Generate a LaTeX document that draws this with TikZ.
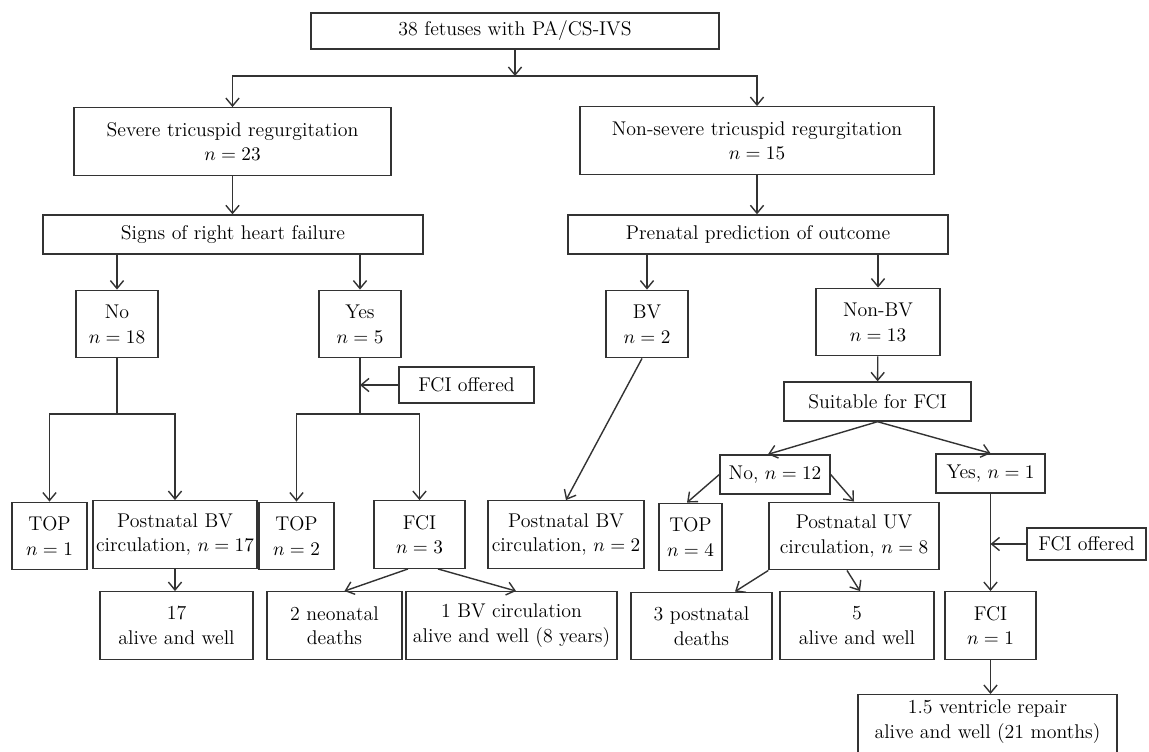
\documentclass[tikz,border=0pt]{standalone}
\usepackage{tikz}
\usetikzlibrary{arrows.meta}
\definecolor{Ink}{HTML}{333333}

\begin{document}
\begin{tikzpicture}[x=0.02cm,y=-0.02cm,>={Straight Barb[length=4.5pt,width=7.5pt]},
    font=\fontsize{11.3}{14}\selectfont]
    \tikzset{
      box/.style={draw=Ink,line width=0.8pt,fill=white,align=center,
        inner xsep=1pt,inner ysep=2pt},
      flat/.style={box,minimum height=0.78cm},
      tall/.style={box,minimum height=1.35cm},
      link/.style={draw=Ink,line width=0.8pt}
    }
    \useasboundingbox (0,0) rectangle (1149,751);
    \node[box,minimum width=8.16cm,minimum height=0.72cm] (root) at (515,31) {38 fetuses with PA/CS-IVS};
    \node[tall,minimum width=6.34cm] (severe) at (232.5,141.5) {Severe tricuspid regurgitation\\ $n=23$};
    \node[tall,minimum width=7.08cm] (nonsev) at (757,140.5) {Non-severe tricuspid regurgitation\\ $n=15$};
    \node[flat,minimum width=7.6cm] (signs) at (233,234.5) {Signs of right heart failure};
    \node[flat,minimum width=7.6cm] (prenatal) at (758,234.5) {Prenatal prediction of outcome};
    \node[tall,minimum width=1.64cm] (no18) at (117,324) {No\\ $n=18$};
    \node[tall,minimum width=1.64cm] (yes5) at (360,324) {Yes\\ $n=5$};
    \node[box,minimum width=2.7cm,minimum height=0.72cm] (fcioffL) at (466.5,385) {FCI offered};
    \node[tall,minimum width=1.64cm] (bv2) at (647,324) {BV\\ $n=2$};
    \node[tall,minimum width=2.48cm] (nonbv) at (878,322) {Non-BV\\ $n=13$};
    \node[flat,minimum width=3.74cm] (suitable) at (877.5,401.5) {Suitable for FCI};
    \node[tall,minimum width=1.5cm] (top1) at (49.5,536) {TOP\\ $n=1$};
    \node[tall,minimum width=3.28cm] (pbv17) at (175,534.5) {Postnatal BV\\ circulation, $n=17$};
    \node[tall,minimum width=1.5cm] (top2) at (296.5,536) {TOP\\ $n=2$};
    \node[tall,minimum width=1.82cm] (fci3) at (419.5,534.5) {FCI\\ $n=3$};
    \node[tall,minimum width=3.12cm] (pbv2) at (566,534.5) {Postnatal BV\\ circulation, $n=2$};
    \node[tall,minimum width=1.26cm] (top4) at (690.5,537) {TOP\\ $n=4$};
    \node[flat,minimum width=2.2cm] (no12) at (775,474.5) {No, $n=12$};
    \node[flat,minimum width=2.18cm] (yes1) at (990.5,473.5) {Yes, $n=1$};
    \node[tall,minimum width=3.4cm] (puv8) at (854,536) {Postnatal UV\\ circulation, $n=8$};
    \node[box,minimum width=2.38cm,minimum height=0.64cm] (fcioffR) at (1086.5,544) {FCI offered};
    \node[tall,minimum width=3.06cm] (alive17) at (176.5,625.5) {17\\ alive and well};
    \node[tall,minimum width=2.7cm] (neo) at (334.5,625.5) {2 neonatal\\ deaths};
    \node[tall,minimum width=4.22cm] (bv1) at (511.5,625.5) {1 BV circulation\\ alive and well (8 years)};
    \node[tall,minimum width=2.82cm] (pdeath) at (701.5,626) {3 postnatal\\ deaths};
    \node[tall,minimum width=3.08cm] (alive5) at (857,625.5) {5\\ alive and well};
    \node[tall,minimum width=1.82cm] (fci1) at (990.5,625.5) {FCI\\ $n=1$};
    \node[box,minimum width=5.18cm,anchor=north,inner ysep=3pt,text depth=0.45cm] (repair) at (987.5,694) {1.5 ventricle repair\\ alive and well (21 months)};

    \coordinate (split) at (515,76);
    \coordinate (nojoin) at (117,414);
    \coordinate (yesjoin) at (360,414);
    \draw[link,->] (root) -- (split);
    \foreach \n in {severe,nonsev}
      \draw[link,->] (split) -| (\n);
    \draw[link,->] (severe.south) -- (severe.south |- signs.north);
    \draw[link,->] (nonsev.south) -- (nonsev.south |- prenatal.north);
    \foreach \n in {no18,yes5}
      \draw[link,->] (\n.north |- signs.south) -- (\n);
    \foreach \n in {bv2,nonbv}
      \draw[link,->] (\n.north |- prenatal.south) -- (\n);
    \draw[link] (no18) -- (nojoin);
    \draw[link] (yes5) -- (yesjoin);
    \foreach \n in {top1,pbv17}
      \draw[link,->] (nojoin) -| (\n);
    \foreach \n in {top2,fci3}
      \draw[link,->] (yesjoin) -| (\n);
    \draw[link,->] (fcioffL) -- (fcioffL -| yes5);
    \draw[link,->] (pbv17) -- (pbv17 |- alive17.north);
    \draw[link,->] ([xshift=-0.23cm]fci3.south) -- ([xshift=0.2cm]neo.north);
    \draw[link,->] ([xshift=0.37cm]fci3.south) -- ([xshift=0.09cm]bv1.north);
    \draw[link,->] ([xshift=-0.1cm]bv2.south) -- (pbv2.north);
    \draw[link,->] (nonbv) -- (suitable);
    \draw[link,->] (suitable.south) -- ([xshift=-0.14cm]no12.north);
    \draw[link,->] (suitable.south) -- (yes1.north);
    \draw[link,->] (no12.west) -- ([xshift=-0.07cm]top4.north);
    \draw[link,->] (no12.east) -- (puv8.north);
    \draw[link,->] (puv8.south west) -- ([xshift=0.67cm]pdeath.north);
    \draw[link,->] ([xshift=-0.14cm]puv8.south) -- ([xshift=0.06cm]alive5.north);
    \draw[link,->] (yes1) -- (fci1);
    \draw[link,->] (fcioffR) -- (fcioffR -| yes1);
    \draw[link,->] (fci1) -- (fci1 |- repair.north);
\end{tikzpicture}
\end{document}
